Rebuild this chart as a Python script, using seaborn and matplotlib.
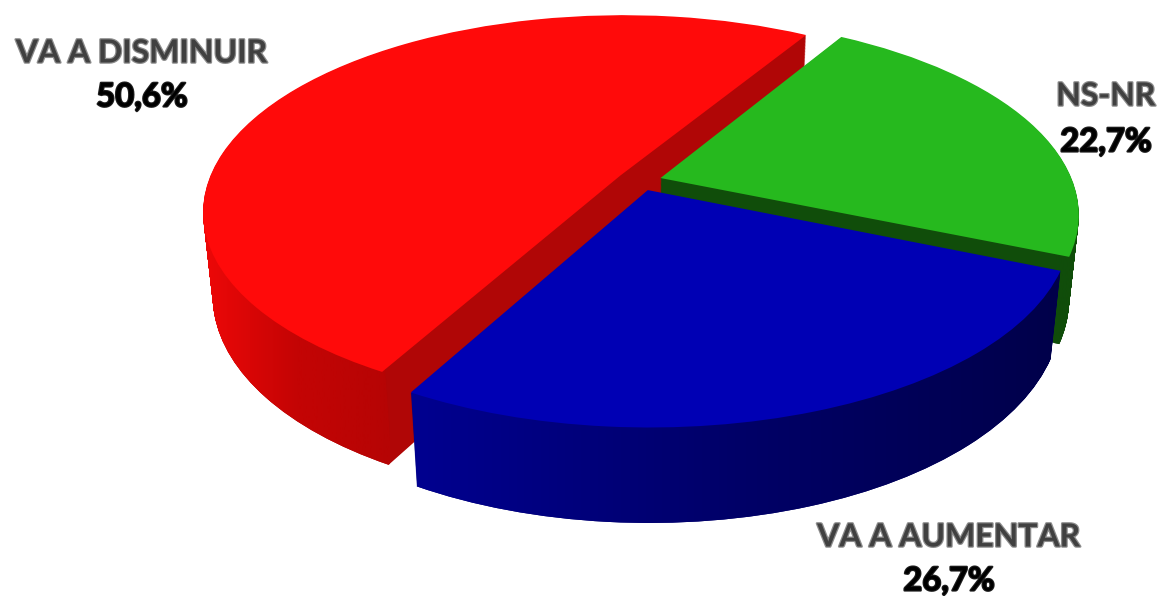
import numpy as np
import seaborn as sns
import matplotlib
matplotlib.use('Agg')
import matplotlib.pyplot as plt
import matplotlib.patheffects as pe
from matplotlib.path import Path
from matplotlib.transforms import Transform

categories = ['VA A DISMINUIR', 'VA A AUMENTAR', 'NS-NR']
shares = [50.6, 26.7, 22.7]

top_colors = ['#ff0a0a', '#0000b4', '#26b91e']
cut_colors = ['#b00606', '#00006e', '#104d0a']
side_ramps = [['#ee0808', '#c40404', '#b60404'], ['#000090', '#000068', '#00004a'], ['#104d0a', '#104d0a']]
side_spans = [(203, 390), (410, 1060), (1040, 1085)]
draw_order = [1, 3, 2]  # red at the back, blue in front
label_pos = [(142, 53), (949, 537), (1106, 96)]
value_pos = [(142, 97), (949, 581), (1106, 142)]

start_angle = 59
explode = [0.058, 0.05, 0.05]
n_layers = 100

CX, CY = 641, 181
SX, SY, SZ = 412, 191, 85
K, M = 0.18, 0.022


class Tilt(Transform):
    """Perspective view of the pie plane, z = 0 on top, z = 1 at the bottom."""
    input_dims = 2
    output_dims = 2
    is_separable = False

    def __init__(self, z):
        super().__init__()
        self.z = z

    def transform_non_affine(self, values):
        values = np.asarray(values, dtype=float)
        w = 1 + K * values[:, 1] + M * self.z
        return np.column_stack([CX + SX * values[:, 0] / w,
                                CY + (-SY * values[:, 1] + SZ * self.z) / w])


sns.set_theme(style='white')
plt.rcParams['font.family'] = ['Lato', 'DejaVu Sans']

fig = plt.figure(figsize=(11.6, 5.96), dpi=100)
ax = fig.add_axes([0, 0, 1, 1])


def pie_layer(z, colors, order_base, **wedgeprops):
    wedges, _ = ax.pie(shares, startangle=start_angle, explode=explode, colors=colors,
                       wedgeprops=dict(linewidth=0, **wedgeprops))
    for i, w in enumerate(wedges):
        w.set_transform(Tilt(z) + ax.transData)
        w.set_zorder(draw_order[i] * 10 + order_base)
    return wedges


# solid extrusion, bottom layer first
depths = np.linspace(1, 0, n_layers)
for n, z in enumerate(depths[:-1]):
    pie_layer(z, cut_colors, 0 + n / n_layers)

# outer wall gradient, clipped to the rim of the stack
rims = [[] for _ in shares]
for z in depths[:-1]:
    wedges, _ = ax.pie(shares, startangle=start_angle, explode=explode, radius=1,
                       wedgeprops=dict(width=0.012, linewidth=0))
    for i, w in enumerate(wedges):
        rims[i].append(Tilt(z).transform_path(w.get_path()))
        w.remove()

for i, ramp in enumerate(side_ramps):
    cmap = sns.blend_palette(ramp, as_cmap=True)
    im = ax.imshow(np.linspace(0, 1, 256)[None, :], cmap=cmap, aspect='auto',
                   extent=(side_spans[i][0], side_spans[i][1], 596, 0), zorder=draw_order[i] * 10 + 2)
    im.set_clip_path(Path.make_compound_path(*rims[i]), ax.transData)

# top faces
pie_layer(0, top_colors, 3)

ax.set_aspect('auto')
ax.set_xlim(0, 1160)
ax.set_ylim(596, 0)
ax.axis('off')

for name, share, lp, vp in zip(categories, shares, label_pos, value_pos):
    ax.text(lp[0], lp[1], name, ha='center', va='center', fontsize=23, fontweight='bold',
            color='#404040', zorder=60,
            path_effects=[pe.withStroke(linewidth=1.8, foreground='#8c8c8c')])
    value = f'{share:.1f}'.replace('.', ',') + '%'
    ax.text(vp[0], vp[1], value, ha='center', va='center', fontsize=23.6, fontweight='bold',
            color='black', zorder=60,
            path_effects=[pe.withStroke(linewidth=1.6, foreground='#202020')])

fig.savefig('out.png', dpi=100)
plt.close(fig)
